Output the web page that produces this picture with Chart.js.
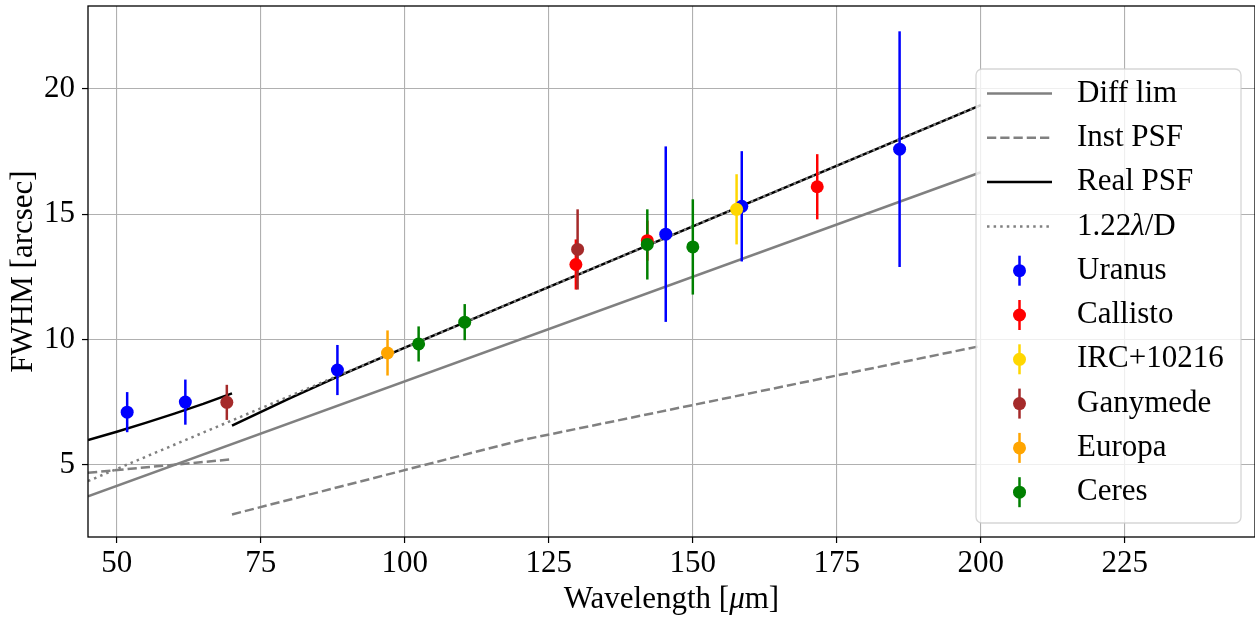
<!DOCTYPE html>
<html>
<head>
<meta charset="utf-8">
<script src="https://cdn.jsdelivr.net/npm/chart.js@4.4.0/dist/chart.umd.min.js"></script>
<style>
  html, body { margin: 0; padding: 0; background: #fff; }
  #wrap { width: 1255px; height: 617px; }
</style>
</head>
<body>
<div id="wrap"><canvas id="fwhmChart" width="1255" height="617"></canvas></div>
<script>
/* ========= Axis ticks ========= */
const xTicks = [50, 75, 100, 125, 150, 175, 200, 225];
const yTicks = [5, 10, 15, 20];

/* ========= Model curves (um -> arcsec) ========= */
const diffLimX = [45, 200];
const diffLimY = [3.75, 16.68];

const instPsfLowX = [45, 70];
const instPsfLowY = [4.69, 5.23];
const instPsfHighX = [70, 120, 200];
const instPsfHighY = [3.03, 5.98, 9.75];

const realPsfLowX = [45, 50, 55, 60, 65, 70];
const realPsfLowY = [6.0, 6.33, 6.68, 7.05, 7.44, 7.86];
const realPsfHighX = [70, 80, 90, 100, 200];
const realPsfHighY = [6.57, 7.66, 8.7, 9.68, 19.36];

const airyX = [45, 200];
const airyY = [4.36, 19.36];

/* ========= Measured sources ========= */
const uranusX = [51.8, 61.9, 88.3, 145.3, 158.5, 185.9];
const uranusY = [7.11, 7.51, 8.79, 14.21, 15.32, 17.6];
const uranusErr = [0.8, 0.9, 1.0, 3.5, 2.2, 4.7];

const callistoX = [129.7, 142.1, 171.6];
const callistoY = [13.0, 13.95, 16.1];
const callistoErr = [1.0, 0.8, 1.3];

const ircX = [157.6];
const ircY = [15.2];
const ircErr = [1.4];

const ganymedeX = [69.1, 130.0];
const ganymedeY = [7.5, 13.6];
const ganymedeErr = [0.7, 1.6];

const europaX = [97.0];
const europaY = [9.47];
const europaErr = [0.9];

const ceresX = [102.4, 110.4, 142.1, 150.0];
const ceresY = [9.83, 10.7, 13.8, 13.7];
const ceresErr = [0.7, 0.72, 1.4, 1.9];

/* ========= Helpers ========= */
const FONT = "'Liberation Serif', 'Times New Roman', 'DejaVu Serif', serif";
const FONT_SIZE = 31;
const GRAY = "#808080";

function pts(xs, ys) {
  return xs.map((x, i) => ({ x: x, y: ys[i] }));
}

function lineSet(label, xs, ys, color, dash) {
  return {
    label: label,
    data: pts(xs, ys),
    showLine: true,
    borderColor: color,
    borderWidth: 2.5,
    borderDash: dash,
    borderCapStyle: "butt",
    pointRadius: 0,
    pointHoverRadius: 0,
    fill: false,
    tension: 0
  };
}

// draw text pieces side by side, [text, italic?] pairs
function drawMixed(ctx, parts, x, y, align) {
  const normal = FONT_SIZE + "px " + FONT;
  const italic = "italic " + FONT_SIZE + "px " + FONT;
  let total = 0;
  parts.forEach(p => { ctx.font = p[1] ? italic : normal; total += ctx.measureText(p[0]).width; });
  let tx = align === "center" ? x - total / 2 : x;
  ctx.textAlign = "left";
  parts.forEach(p => {
    ctx.font = p[1] ? italic : normal;
    ctx.fillText(p[0], tx, y);
    tx += ctx.measureText(p[0]).width;
  });
}

const markerSets = [
  { label: "Uranus", color: "#0000ff", xs: uranusX, ys: uranusY, err: uranusErr },
  { label: "Callisto", color: "#ff0000", xs: callistoX, ys: callistoY, err: callistoErr },
  { label: "IRC+10216", color: "#ffd700", xs: ircX, ys: ircY, err: ircErr },
  { label: "Ganymede", color: "#a52a2a", xs: ganymedeX, ys: ganymedeY, err: ganymedeErr },
  { label: "Europa", color: "#ffa500", xs: europaX, ys: europaY, err: europaErr },
  { label: "Ceres", color: "#008000", xs: ceresX, ys: ceresY, err: ceresErr }
];

const DASHED = [9.25, 4];
const DOTTED = [2.5, 4.1];

const lineSets = [
  lineSet("Diff lim", diffLimX, diffLimY, GRAY, []),
  lineSet("Inst PSF", instPsfLowX, instPsfLowY, GRAY, DASHED),
  lineSet("", instPsfHighX, instPsfHighY, GRAY, DASHED),
  lineSet("Real PSF", realPsfLowX, realPsfLowY, "#000000", []),
  lineSet("", realPsfHighX, realPsfHighY, "#000000", []),
  lineSet("1.22λ/D", airyX, airyY, GRAY, DOTTED)
];

const pointSets = markerSets.map(s => ({
  label: s.label,
  data: pts(s.xs, s.ys),
  backgroundColor: s.color,
  borderColor: s.color,
  borderWidth: 0,
  pointRadius: 6.5,
  pointHoverRadius: 6.5,
  showLine: false
}));

const datasets = lineSets.concat(pointSets);
// draw in the order they were added (first one at the bottom)
datasets.forEach((d, i) => { d.order = datasets.length - i; });
const firstMarkerIndex = lineSets.length;

/* ========= Plugins ========= */
const errorBarPlugin = {
  id: "errorBars",
  beforeDatasetDraw(chart, args) {
    if (args.index !== firstMarkerIndex) return;
    const { ctx, scales: { x, y } } = chart;
    ctx.save();
    ctx.lineWidth = 2.5;
    ctx.lineCap = "butt";
    markerSets.forEach(s => {
      ctx.strokeStyle = s.color;
      s.xs.forEach((v, i) => {
        const px = x.getPixelForValue(v);
        ctx.beginPath();
        ctx.moveTo(px, y.getPixelForValue(s.ys[i] - s.err[i]));
        ctx.lineTo(px, y.getPixelForValue(s.ys[i] + s.err[i]));
        ctx.stroke();
      });
    });
    ctx.restore();
  }
};

const framePlugin = {
  id: "frame",
  afterDatasetsDraw(chart) {
    const { ctx, chartArea: a } = chart;
    ctx.save();
    ctx.strokeStyle = "#000";
    ctx.lineWidth = 1.3;
    ctx.strokeRect(a.left, a.top, a.right - a.left, a.bottom - a.top);
    // x axis title with an italic mu
    ctx.fillStyle = "#000";
    ctx.textBaseline = "middle";
    drawMixed(ctx, [["Wavelength [", false], ["μ", true], ["m]", false]], (a.left + a.right) / 2, 600, "center");
    ctx.restore();
  }
};

function roundRect(ctx, x, y, w, h, r) {
  ctx.beginPath();
  ctx.moveTo(x + r, y);
  ctx.lineTo(x + w - r, y);
  ctx.arcTo(x + w, y, x + w, y + r, r);
  ctx.lineTo(x + w, y + h - r);
  ctx.arcTo(x + w, y + h, x + w - r, y + h, r);
  ctx.lineTo(x + r, y + h);
  ctx.arcTo(x, y + h, x, y + h - r, r);
  ctx.lineTo(x, y + r);
  ctx.arcTo(x, y, x + r, y, r);
  ctx.closePath();
}

const legendPlugin = {
  id: "boxLegend",
  afterDraw(chart) {
    const ctx = chart.ctx;
    const boxX = 976, boxY = 69, boxW = 265, boxH = 454;
    const rowY0 = 93.5, rowStep = 44.3;
    const handleX0 = 987, handleX1 = 1052, handleMid = 1019.5, textX = 1077;
    ctx.save();
    roundRect(ctx, boxX, boxY, boxW, boxH, 6);
    ctx.fillStyle = "rgba(255,255,255,0.8)";
    ctx.fill();
    ctx.strokeStyle = "rgba(204,204,204,0.8)";
    ctx.lineWidth = 1.3;
    ctx.stroke();

    ctx.textBaseline = "middle";
    let row = 0;
    lineSets.forEach(d => {
      if (!d.label) return;
      const yy = rowY0 + row * rowStep;
      ctx.strokeStyle = d.borderColor;
      ctx.lineWidth = d.borderWidth;
      ctx.setLineDash(d.borderDash);
      ctx.beginPath();
      ctx.moveTo(handleX0, yy);
      ctx.lineTo(handleX1, yy);
      ctx.stroke();
      ctx.setLineDash([]);
      ctx.fillStyle = "#000";
      if (d.label.includes("λ")) {
        drawMixed(ctx, [["1.22", false], ["λ", true], ["/D", false]], textX, yy, "left");
      } else {
        drawMixed(ctx, [[d.label, false]], textX, yy, "left");
      }
      row++;
    });
    markerSets.forEach(s => {
      const yy = rowY0 + row * rowStep;
      ctx.strokeStyle = s.color;
      ctx.lineWidth = 2.5;
      ctx.beginPath();
      ctx.moveTo(handleMid, yy - 15);
      ctx.lineTo(handleMid, yy + 15);
      ctx.stroke();
      ctx.fillStyle = s.color;
      ctx.beginPath();
      ctx.arc(handleMid, yy, 6.5, 0, Math.PI * 2);
      ctx.fill();
      ctx.fillStyle = "#000";
      drawMixed(ctx, [[s.label, false]], textX, yy, "left");
      row++;
    });
    ctx.restore();
  }
};

/* ========= Chart ========= */
Chart.defaults.font.family = FONT;
Chart.defaults.font.size = FONT_SIZE;
Chart.defaults.color = "#000";

function noPad(s) {
  s.paddingTop = 0;
  s.paddingBottom = 0;
  s.paddingLeft = 0;
  s.paddingRight = 0;
}

const ctx = document.getElementById("fwhmChart").getContext("2d");
const chart = new Chart(ctx, {
  type: "scatter",
  data: { datasets: datasets },
  options: {
    responsive: false,
    animation: false,
    devicePixelRatio: 1,
    layout: { autoPadding: false, padding: { top: 6, right: 0, left: 0, bottom: 0 } },
    plugins: {
      legend: { display: false },
      tooltip: { enabled: false }
    },
    scales: {
      x: {
        type: "linear",
        min: 45,
        max: 247.6,
        afterFit: s => { s.height = 80; noPad(s); },
        afterBuildTicks: s => { s.ticks = xTicks.map(v => ({ value: v })); },
        grid: { color: "#b0b0b0", lineWidth: 1.1, tickColor: "#000", tickLength: 6, tickWidth: 1.2 },
        border: { display: false },
        ticks: { padding: 2, maxRotation: 0, autoSkip: false },
        title: { display: false }
      },
      y: {
        type: "linear",
        min: 2.13,
        max: 23.31,
        afterFit: s => { s.width = 88; noPad(s); },
        afterBuildTicks: s => { s.ticks = yTicks.map(v => ({ value: v })); },
        grid: { color: "#b0b0b0", lineWidth: 1.1, tickColor: "#000", tickLength: 6, tickWidth: 1.2 },
        border: { display: false },
        ticks: { padding: 7 },
        title: { display: true, text: "FWHM [arcsec]", padding: { top: 5, bottom: 0 } }
      }
    }
  },
  plugins: [errorBarPlugin, framePlugin, legendPlugin]
});
</script>
</body>
</html>
